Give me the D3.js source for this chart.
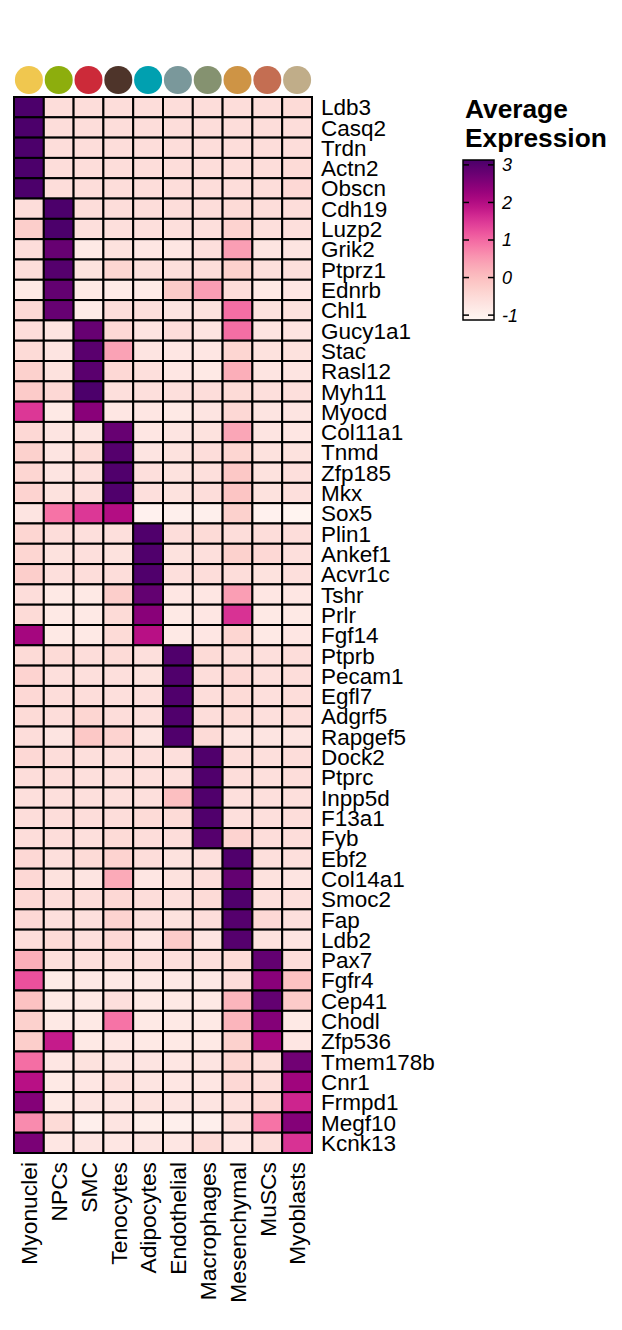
<!DOCTYPE html>
<html><head><meta charset="utf-8">
<script src="https://cdn.jsdelivr.net/npm/d3@7"></script>
<style>body{margin:0;background:#fff}svg{display:block}text{font-family:"Liberation Sans",Arial,sans-serif}</style>
</head><body><svg id="c" width="622" height="1330"></svg>
<script>
const cellTypes = ["Myonuclei","NPCs","SMC","Tenocytes","Adipocytes","Endothelial","Macrophages","Mesenchymal","MuSCs","Myoblasts"];
const typeColors = ["#F0C74F","#8DAE0D","#CC2A39","#4E342A","#00A0B0","#7A989B","#859270","#CE9445","#C46E52","#C0AD89"];
const genes = ["Ldb3","Casq2","Trdn","Actn2","Obscn","Cdh19","Luzp2","Grik2","Ptprz1","Ednrb","Chl1",
  "Gucy1a1","Stac","Rasl12","Myh11","Myocd","Col11a1","Tnmd","Zfp185","Mkx","Sox5",
  "Plin1","Ankef1","Acvr1c","Tshr","Prlr","Fgf14","Ptprb","Pecam1","Egfl7","Adgrf5","Rapgef5",
  "Dock2","Ptprc","Inpp5d","F13a1","Fyb","Ebf2","Col14a1","Smoc2","Fap","Ldb2",
  "Pax7","Fgfr4","Cep41","Chodl","Zfp536","Tmem178b","Cnr1","Frmpd1","Megf10","Kcnk13"];
// average expression, one row per gene, columns in cellTypes order
const expression = [
  [3.1,-0.55,-0.55,-0.55,-0.55,-0.55,-0.55,-0.55,-0.55,-0.5],
  [3.1,-0.55,-0.55,-0.55,-0.55,-0.55,-0.55,-0.55,-0.55,-0.55],
  [3.1,-0.55,-0.55,-0.55,-0.55,-0.55,-0.55,-0.55,-0.55,-0.55],
  [3.1,-0.55,-0.55,-0.55,-0.55,-0.55,-0.55,-0.55,-0.55,-0.5],
  [3.1,-0.55,-0.55,-0.55,-0.55,-0.55,-0.55,-0.55,-0.55,-0.45],
  [-0.55,3.1,-0.55,-0.55,-0.55,-0.55,-0.55,-0.5,-0.55,-0.55],
  [-0.25,3.1,-0.6,-0.6,-0.6,-0.6,-0.6,-0.35,-0.6,-0.6],
  [-0.55,2.8,-0.8,-0.65,-0.75,-0.75,-0.6,0.45,-0.7,-0.7],
  [-0.55,3.0,-0.65,-0.4,-0.6,-0.6,-0.55,-0.3,-0.6,-0.6],
  [-0.8,2.85,-0.8,-0.85,-0.85,-0.2,0.45,-0.55,-0.8,-0.75],
  [-0.45,2.8,-0.85,-0.55,-0.6,-0.7,-0.65,0.95,-0.65,-0.65],
  [-0.55,-0.7,2.8,-0.45,-0.7,-0.55,-0.7,0.95,-0.7,-0.7],
  [-0.5,-0.7,2.95,0.4,-0.7,-0.75,-0.75,-0.4,-0.65,-0.65],
  [-0.3,-0.65,2.95,-0.45,-0.6,-0.75,-0.8,0.25,-0.7,-0.7],
  [-0.2,-0.45,3.1,-0.6,-0.6,-0.6,-0.55,-0.5,-0.6,-0.6],
  [1.5,-0.8,2.45,-0.75,-0.75,-0.8,-0.7,-0.45,-0.7,-0.7],
  [-0.45,-0.7,-0.7,2.8,-0.75,-0.7,-0.65,0.35,-0.7,-0.75],
  [-0.3,-0.7,-0.5,3.0,-0.7,-0.65,-0.55,-0.4,-0.65,-0.65],
  [-0.4,-0.7,-0.6,3.05,-0.6,-0.65,-0.6,-0.15,-0.65,-0.6],
  [-0.35,-0.65,-0.6,3.05,-0.6,-0.65,-0.55,-0.1,-0.65,-0.6],
  [-0.7,0.9,1.5,2.0,-1.0,-0.95,-0.95,-0.3,-1.0,-1.05],
  [-0.4,-0.55,-0.6,-0.6,3.05,-0.55,-0.5,-0.55,-0.55,-0.55],
  [-0.4,-0.65,-0.6,-0.65,3.05,-0.65,-0.6,-0.3,-0.45,-0.6],
  [-0.25,-0.6,-0.55,-0.55,3.05,-0.6,-0.55,-0.55,-0.65,-0.6],
  [-0.55,-0.8,-0.8,-0.25,2.85,-0.75,-0.75,0.45,-0.75,-0.75],
  [-0.5,-0.8,-0.8,-0.5,2.45,-0.8,-0.75,1.55,-0.8,-0.8],
  [2.15,-0.8,-0.8,-0.5,1.95,-0.8,-0.75,-0.4,-0.8,-0.75],
  [-0.5,-0.5,-0.55,-0.5,-0.6,3.05,-0.5,-0.55,-0.6,-0.55],
  [-0.35,-0.6,-0.6,-0.6,-0.65,3.05,-0.55,-0.45,-0.6,-0.55],
  [-0.45,-0.55,-0.55,-0.6,-0.6,3.05,-0.55,-0.5,-0.6,-0.55],
  [-0.5,-0.55,-0.4,-0.55,-0.6,3.05,-0.55,-0.5,-0.6,-0.55],
  [-0.55,-0.7,-0.15,-0.35,-0.7,3.05,-0.5,-0.7,-0.7,-0.7],
  [-0.45,-0.55,-0.6,-0.6,-0.6,-0.6,3.05,-0.55,-0.6,-0.55],
  [-0.55,-0.55,-0.6,-0.6,-0.6,-0.6,3.05,-0.55,-0.6,-0.55],
  [-0.6,-0.6,-0.6,-0.6,-0.6,0.0,3.05,-0.6,-0.6,-0.6],
  [-0.55,-0.55,-0.55,-0.55,-0.5,-0.5,3.05,-0.6,-0.6,-0.55],
  [-0.55,-0.55,-0.6,-0.5,-0.55,-0.55,3.0,-0.35,-0.55,-0.55],
  [-0.45,-0.6,-0.5,-0.35,-0.55,-0.65,-0.6,3.05,-0.6,-0.6],
  [-0.45,-0.65,-0.7,0.3,-0.75,-0.65,-0.55,2.85,-0.65,-0.7],
  [-0.45,-0.55,-0.55,-0.45,-0.55,-0.6,-0.5,3.05,-0.6,-0.6],
  [-0.45,-0.6,-0.6,-0.35,-0.6,-0.65,-0.55,3.0,-0.45,-0.6],
  [-0.55,-0.5,-0.6,-0.45,-0.75,-0.2,-0.7,3.0,-0.65,-0.7],
  [0.25,-0.6,-0.6,-0.6,-0.6,-0.6,-0.6,-0.5,2.85,-0.55],
  [1.25,-0.85,-0.8,-0.8,-0.8,-0.8,-0.8,-0.55,2.45,-0.05],
  [-0.05,-0.8,-0.8,-0.6,-0.8,-0.8,-0.8,0.15,2.85,-0.2],
  [-0.3,-0.8,-0.8,0.9,-0.8,-0.8,-0.8,0.15,2.5,-0.8],
  [-0.25,1.8,-0.8,-0.75,-0.8,-0.8,-0.8,-0.3,2.15,-0.75],
  [0.95,-0.75,-0.65,-0.7,-0.7,-0.75,-0.7,-0.4,-0.55,2.7],
  [1.95,-0.8,-0.75,-0.6,-0.7,-0.75,-0.75,-0.45,-0.55,2.2],
  [2.5,-0.8,-0.7,-0.7,-0.65,-0.7,-0.7,-0.6,-0.45,1.7],
  [0.65,-0.5,-0.95,-0.7,-0.9,-0.95,-0.95,-0.6,0.9,2.5],
  [2.6,-0.75,-0.7,-0.75,-0.7,-0.75,-0.5,-0.75,-0.55,1.55]
];
const legendTicks = [-1,0,1,2,3];
const colorDomain = [-1.13, 3.13];

const svg = d3.select("#c");
const x = d3.scaleBand().domain(cellTypes).range([14, 312]);
const y = d3.scaleBand().domain(genes).range([97, 1153]);
const color = d3.scaleSequential(d3.interpolateRdPu).domain(colorDomain).clamp(true);

const cells = [];
genes.forEach((g,i)=>cellTypes.forEach((c,j)=>cells.push({g,c,v:expression[i][j]})));

svg.append("g").selectAll("rect").data(cells).join("rect")
  .attr("x",d=>x(d.c)).attr("y",d=>y(d.g))
  .attr("width",x.bandwidth()).attr("height",y.bandwidth())
  .attr("fill",d=>color(d.v)).attr("stroke","#000").attr("stroke-width",2);

// annotation dots
svg.append("g").selectAll("circle").data(cellTypes).join("circle")
  .attr("cx",d=>x(d)+x.bandwidth()/2).attr("cy",80).attr("r",14)
  .attr("fill",(d,i)=>typeColors[i]);

// row labels
svg.append("g").selectAll("text").data(genes).join("text")
  .attr("x",321).attr("y",d=>y(d)+y.bandwidth()/2).attr("dy","0.36em")
  .attr("font-size",22.5).attr("fill","#000").text(d=>d);

// column labels
svg.append("g").selectAll("text").data(cellTypes).join("text")
  .attr("transform",d=>`translate(${x(d)+x.bandwidth()/2},1162) rotate(-90)`)
  .attr("dy","0.36em").attr("text-anchor","end")
  .attr("font-size",22.8).attr("fill","#000").text(d=>d);

// legend
const lg = svg.append("g");
lg.append("text").attr("x",465).attr("y",118).attr("font-size",26.3).attr("font-weight","bold").text("Average");
lg.append("text").attr("x",465).attr("y",147).attr("font-size",26.3).attr("font-weight","bold").text("Expression");
const defs = svg.append("defs");
const grad = defs.append("linearGradient").attr("id","g").attr("x1",0).attr("y1",1).attr("x2",0).attr("y2",0);
d3.range(0,1.0001,0.05).forEach(t=>grad.append("stop").attr("offset",t).attr("stop-color",d3.interpolateRdPu(t)));
const ly = d3.scaleLinear().domain(colorDomain).range([320,160]);
const bx0 = 463, bx1 = 494;
lg.append("rect").attr("x",bx0).attr("y",160).attr("width",bx1-bx0).attr("height",160)
  .attr("fill","url(#g)").attr("stroke","#000").attr("stroke-width",1.5);
lg.selectAll(".tk").data(legendTicks).join("g").each(function(d){
  const g = d3.select(this);
  g.append("line").attr("x1",bx0).attr("x2",bx0+6).attr("y1",ly(d)).attr("y2",ly(d)).attr("stroke","#000").attr("stroke-width",1.5);
  g.append("line").attr("x1",bx1-6).attr("x2",bx1).attr("y1",ly(d)).attr("y2",ly(d)).attr("stroke","#000").attr("stroke-width",1.5);
  g.append("text").attr("x",502).attr("y",ly(d)).attr("dy","0.36em").attr("font-size",18).attr("font-style","italic").text(d);
});
</script></body></html>
